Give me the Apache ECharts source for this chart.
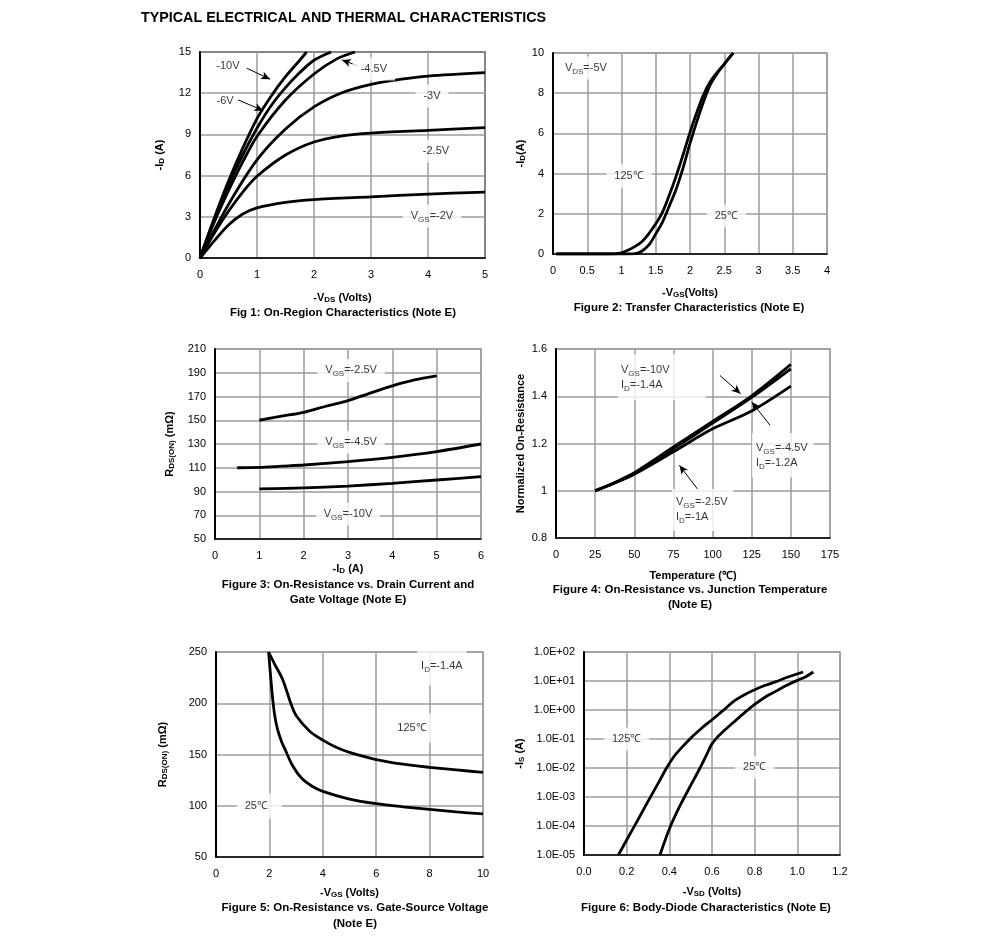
<!DOCTYPE html>
<html><head><meta charset="utf-8">
<script src="https://cdn.jsdelivr.net/npm/echarts@6/dist/echarts.min.js"></script>
<style>html,body{margin:0;padding:0;background:#fff}#c{width:991px;height:944px}</style>
</head><body><div id="c"></div>
<script>
// ---------- Fig 1: On-region characteristics (-VDS, -ID) ----------
const f1_vgs10 = [[0,0],[0.25,2.9],[0.5,5.6],[0.75,8.0],[1,10.15],[1.25,11.8],[1.5,13.2],[1.75,14.4],[1.87,15]];
const f1_vgs6  = [[0,0],[0.25,2.8],[0.5,5.3],[0.75,7.5],[1,9.45],[1.25,11.1],[1.5,12.4],[1.75,13.5],[2,14.4],[2.3,15]];
const f1_vgs45 = [[0,0],[0.25,2.6],[0.5,4.9],[0.75,7.0],[1,8.85],[1.5,11.5],[2,13.4],[2.4,14.5],[2.72,15]];
const f1_vgs3  = [[0,0],[0.5,3.9],[1,7.15],[1.5,9.4],[2,11.0],[2.5,12.05],[3,12.65],[3.5,13.0],[4,13.25],[5,13.5]];
const f1_vgs25 = [[0,0],[0.25,1.8],[0.5,3.4],[0.75,4.8],[1,5.95],[1.5,7.5],[2,8.45],[2.5,8.9],[3,9.1],[4,9.3],[5,9.5]];
const f1_vgs2  = [[0,0],[0.1,0.5],[0.25,1.25],[0.5,2.4],[0.75,3.2],[1,3.65],[1.5,4.05],[2,4.25],[3,4.45],[4,4.65],[5,4.8]];
// ---------- Fig 2: Transfer characteristics (-VGS, -ID) ----------
const f2_t125 = [[0.05,0],[0.8,0],[1.0,0.06],[1.1,0.2],[1.2,0.38],[1.3,0.62],[1.4,1.02],[1.5,1.5],[1.6,2.1],[1.7,2.95],[1.8,3.9],[1.9,4.95],[2.0,6.05],[2.1,7.05],[2.2,7.95],[2.3,8.6],[2.4,9.05],[2.5,9.45],[2.63,10]];
const f2_t25  = [[0.05,0],[1.0,0],[1.2,0.02],[1.3,0.15],[1.4,0.45],[1.5,1.0],[1.6,1.6],[1.7,2.4],[1.8,3.25],[1.9,4.3],[2.0,5.5],[2.1,6.6],[2.2,7.6],[2.3,8.45],[2.4,9.0],[2.5,9.45],[2.63,10]];
// ---------- Fig 3: RDS(ON) vs -ID ----------
const f3_vgs25 = [[1,150],[1.5,153.4],[2,156.7],[2.5,161.8],[3,166.5],[3.5,172.9],[4,179],[4.5,184],[5,187.4]];
const f3_vgs45 = [[0.5,110],[1,110.3],[1.5,111.3],[2,112.3],[3,115.2],[4,118.8],[5,123.6],[6,130]];
const f3_vgs10 = [[1,92.2],[2,93],[3,94.6],[4,96.9],[5,99.7],[6,102.5]];
// ---------- Fig 4: Normalized RDS(ON) vs temperature ----------
const f4_vgs10 = [[25,1.0],[37.5,1.035],[50,1.076],[75,1.185],[100,1.293],[125,1.402],[150,1.535]];
const f4_vgs45 = [[25,1.0],[37.5,1.034],[50,1.073],[75,1.178],[100,1.286],[125,1.395],[150,1.516]];
const f4_vgs25 = [[25,1.0],[37.5,1.033],[50,1.07],[75,1.165],[100,1.262],[125,1.338],[150,1.443]];
// ---------- Fig 5: RDS(ON) vs -VGS ----------
const f5_t125 = [[1.97,250],[2.2,238],[2.5,223],[2.8,200],[3,188],[3.5,173],[4,164],[4.5,157],[5,152],[6,145],[7,140.5],[8,137.5],[9,135],[10,132.5]];
const f5_t25  = [[1.97,250],[2.05,225],[2.12,205],[2.2,188],[2.3,175],[2.45,163],[2.62,153],[2.87,139],[3.2,127],[3.6,119],[4,114],[5,106.5],[6,102],[7,99],[8,96.5],[9,94],[10,92]];
// ---------- Fig 6: Body diode (-VSD, -IS) ----------
const f6_t125 = [[0.161,1e-5],[0.2,3.3e-5],[0.25,1.5e-4],[0.3,7.1e-4],[0.35,3.2e-3],[0.387,1e-2],[0.42,2.4e-2],[0.45,4.4e-2],[0.5,0.107],[0.55,0.23],[0.6,0.46],[0.65,0.93],[0.7,1.95],[0.75,3.3],[0.8,5.0],[0.85,7.1],[0.9,9.5],[0.95,13.2],[1.027,20.4]];
const f6_t25  = [[0.356,1e-5],[0.4,7.9e-5],[0.45,5e-4],[0.5,2.5e-3],[0.544,1e-2],[0.575,2.9e-2],[0.6,6.8e-2],[0.625,0.115],[0.65,0.175],[0.7,0.37],[0.75,0.78],[0.8,1.55],[0.85,2.82],[0.9,4.47],[0.95,7.1],[1.0,10.5],[1.04,14.1],[1.075,20.4]];
const f6_yTickLabels = ['1.0E-05','1.0E-04','1.0E-03','1.0E-02','1.0E-01','1.0E+00','1.0E+01','1.0E+02'];

// ---------- annotation texts ----------
const f1_notes = [
  {x:0.49,y:13.98,t:'-10V',bg:false},{x:0.44,y:11.43,t:'-6V',bg:false},{x:3.05,y:13.77,t:'-4.5V'},
  {x:4.07,y:11.8,t:'-3V'},{x:4.14,y:7.79,t:'-2.5V'},{x:4.07,y:3.06,t:'V{s|GS}=-2V'}];
const f1_arrows = [[0.82,13.82,1.23,13.02],[0.67,11.51,1.11,10.73],[2.78,13.98,2.49,14.42]];
const f2_notes = [{x:0.48,y:9.25,t:'V{s|DS}=-5V'},{x:1.11,y:3.88,t:'125℃'},{x:2.53,y:1.89,t:'25℃'}];
const f3_notes = [{x:3.07,y:192,t:'V{s|GS}=-2.5V'},{x:3.07,y:131.5,t:'V{s|GS}=-4.5V'},{x:3.0,y:71,t:'V{s|GS}=-10V'}];
const f4_notes = [
  {x:39.6,y:1.48,t:'V{s|GS}=-10V\nI{s|D}=-1.4A',align:'left',pad:[8,36,8,3]},
  {x:125.2,y:1.15,t:'V{s|GS}=-4.5V\nI{s|D}=-1.2A',align:'left',pad:[7,6,7,4]},
  {x:74.1,y:0.919,t:'V{s|GS}=-2.5V\nI{s|D}=-1A',align:'left',pad:[6,6,6,4]}];
const f4_arrows = [[104.7,1.488,117.9,1.411],[136.7,1.277,125,1.376],[90.3,1.008,78.8,1.108]];
const f5_notes = [{x:8.46,y:235.4,t:'I{s|D}=-1.4A',pad:[10,4,12,4]},{x:7.34,y:175.9,t:'125℃',pad:[7,8,7,8]},{x:1.62,y:99.8,t:'25℃',pad:[5,14,5,8]}];
const f6_notes = [{x:0.2,y:0.1,t:'125℃'},{x:0.80,y:0.0105,t:'25℃'}];

const FONT = 'Liberation Sans, Arial, sans-serif';
const RICH = {s:{fontSize:8, fontFamily:FONT, color:'#000', verticalAlign:'bottom', lineHeight:13}};
const RICHB = {s:{fontSize:8, fontFamily:FONT, fontWeight:'bold', color:'#000', verticalAlign:'bottom', lineHeight:13}};
const GRID_C = '#9c9c9c';

const grids = [
  {left:200, top:52, width:285, height:206, show:true, borderColor:'#000', borderWidth:1.5},
  {left:553, top:53, width:274, height:201, show:true, borderColor:GRID_C, borderWidth:1.5},
  {left:215, top:349, width:266, height:190, show:true, borderColor:GRID_C, borderWidth:1.5},
  {left:556, top:349, width:274, height:189, show:true, borderColor:GRID_C, borderWidth:1.5},
  {left:216, top:652, width:267, height:205, show:true, borderColor:GRID_C, borderWidth:1.5},
  {left:584, top:652, width:256, height:203, show:true, borderColor:GRID_C, borderWidth:1.5}
];

function xAx(i, min, max, interval, name, gap, fmt){
  return {type:'value', gridIndex:i, min, max, interval, name, nameLocation:'middle', nameGap:gap,
    nameTextStyle:{fontFamily:FONT, fontSize:11, fontWeight:'bold', color:'#000', rich:RICHB},
    axisLine:{lineStyle:{color:'#000', width:1.5}}, axisTick:{show:false},
    axisLabel:{fontFamily:FONT, fontSize:11, color:'#000', margin:11, formatter:fmt},
    splitLine:{show:true, lineStyle:{color:GRID_C, width:1.5}}};
}
function yAx(i, min, max, interval, name, gap, extra){
  return Object.assign({type:'value', gridIndex:i, min, max, interval, name, nameLocation:'middle', nameGap:gap,
    nameTextStyle:{fontFamily:FONT, fontSize:11, fontWeight:'bold', color:'#000', rich:RICHB},
    axisLine:{lineStyle:{color:'#000', width:2}}, axisTick:{show:false},
    axisLabel:{fontFamily:FONT, fontSize:11, color:'#000', margin:9},
    splitLine:{show:true, lineStyle:{color:GRID_C, width:1.5}}}, extra||{});
}
function curve(i, data){
  return {type:'line', xAxisIndex:i, yAxisIndex:i, data, symbol:'none', smooth:0.3,
    lineStyle:{color:'#000', width:2.8}, silent:true, z:3};
}
function notes(i, items, arrows){
  const s = {type:'scatter', xAxisIndex:i, yAxisIndex:i, symbolSize:1, itemStyle:{color:'rgba(0,0,0,0)'}, z:6, silent:true,
    data: items.map(it => ({value:[it.x, it.y], label:{formatter:it.t, align:it.align||'center',
      backgroundColor: it.bg===false ? 'transparent' : '#fff', padding: it.pad || [4,8]}})),
    label:{show:true, position:'inside', color:'#000', fontFamily:FONT, fontSize:11, lineHeight:15, rich:RICH}};
  if (arrows) s.markLine = {silent:true, symbol:['none','arrow'], symbolSize:[6,9], label:{show:false},
    lineStyle:{color:'#000', width:1, type:'solid'}, emphasis:{disabled:true},
    data: arrows.map(a => [{coord:[a[0],a[1]]},{coord:[a[2],a[3]]}])};
  return s;
}

const captions = [
  ['Fig 1: On-Region Characteristics (Note E)', 343, 313],
  ['Figure 2: Transfer Characteristics (Note E)', 689, 308],
  ['Figure 3: On-Resistance vs. Drain Current and', 348, 585],
  ['Gate Voltage (Note E)', 348, 600],
  ['Figure 4: On-Resistance vs. Junction Temperature', 690, 590],
  ['(Note E)', 690, 605],
  ['Figure 5: On-Resistance vs. Gate-Source Voltage', 355, 908],
  ['(Note E)', 355, 924],
  ['Figure 6: Body-Diode Characteristics (Note E)', 706, 908]
];

const chart = echarts.init(document.getElementById('c'), null, {renderer:'canvas'});
chart.setOption({
  animation:false,
  backgroundColor:'#fff',
  grid: grids,
  xAxis: [
    xAx(0, 0, 5, 1, '-V{s|DS} (Volts)', 33),
    xAx(1, 0, 4, 0.5, '-V{s|GS}(Volts)', 32),
    xAx(2, 0, 6, 1, '-I{s|D} (A)', 23),
    xAx(3, 0, 175, 25, 'Temperature (℃)', 32),
    xAx(4, 0, 10, 2, '-V{s|GS} (Volts)', 29),
    xAx(5, 0, 1.2, 0.2, '-V{s|SD} (Volts)', 30, v => v.toFixed(1))
  ],
  yAxis: [
    yAx(0, 0, 15, 3, '-I{s|D} (A)', 34),
    yAx(1, 0, 10, 2, '-I{s|D}(A)', 26),
    yAx(2, 50, 210, 20, 'R{s|DS(ON)} (mΩ)', 39),
    yAx(3, 0.8, 1.6, 0.2, 'Normalized On-Resistance', 30),
    yAx(4, 50, 250, 50, 'R{s|DS(ON)} (mΩ)', 47),
    yAx(5, 1e-5, 100, null, '-I{s|S} (A)', 58, {type:'log', logBase:10, interval:undefined,
      axisLabel:{fontFamily:FONT, fontSize:11, color:'#000', margin:9,
        formatter: v => f6_yTickLabels[Math.round(Math.log10(v)) + 5]}})
  ],
  series: [
    curve(0, f1_vgs10), curve(0, f1_vgs6), curve(0, f1_vgs45), curve(0, f1_vgs3), curve(0, f1_vgs25), curve(0, f1_vgs2),
    notes(0, f1_notes, f1_arrows),
    curve(1, f2_t125), curve(1, f2_t25), notes(1, f2_notes),
    curve(2, f3_vgs25), curve(2, f3_vgs45), curve(2, f3_vgs10), notes(2, f3_notes),
    curve(3, f4_vgs10), curve(3, f4_vgs45), curve(3, f4_vgs25), notes(3, f4_notes, f4_arrows),
    curve(4, f5_t125), curve(4, f5_t25), notes(4, f5_notes),
    curve(5, f6_t125), curve(5, f6_t25), notes(5, f6_notes)
  ],
  graphic: [
    {type:'text', left:141, top:11, style:{text:'TYPICAL ELECTRICAL AND THERMAL CHARACTERISTICS', font:'bold 14.3px ' + FONT, fill:'#000'}}
  ].concat(captions.map(c => ({type:'text', x:c[1], y:c[2], style:{text:c[0], font:'bold 11.5px ' + FONT, fill:'#000', textAlign:'center', textVerticalAlign:'middle'}})))
});
</script>
</body></html>
